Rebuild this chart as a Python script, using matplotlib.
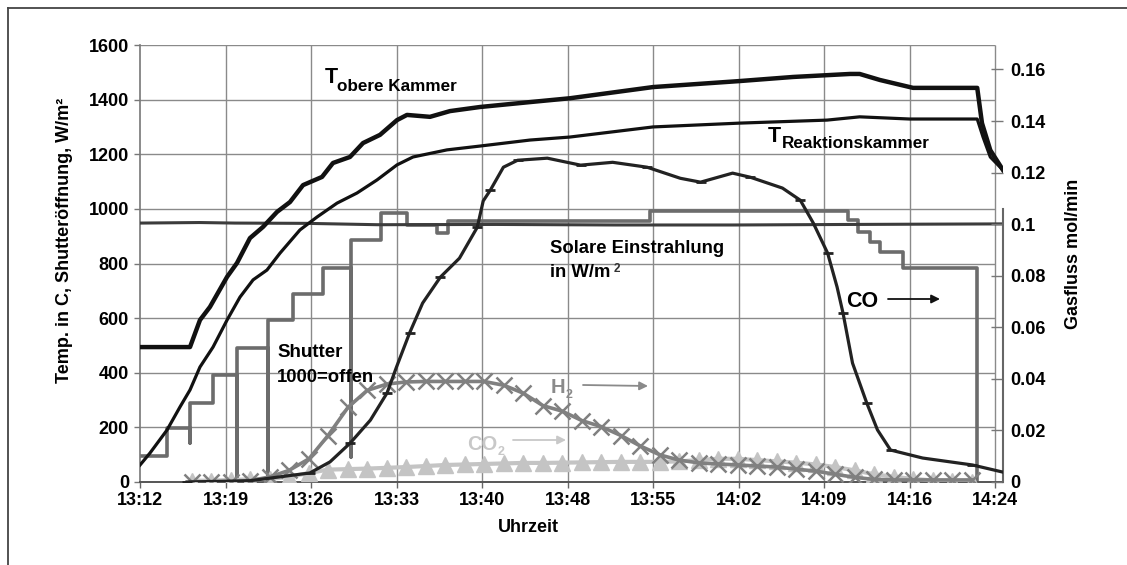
import matplotlib
matplotlib.use("Agg")
import matplotlib.pyplot as plt
from matplotlib.lines import Line2D

plt.rcParams['font.family'] = ['Liberation Sans', 'DejaVu Sans']
plt.rcParams['font.weight'] = 'bold'

# ---------------- data (time in minutes after 13:12) ----------------
tick_labels = ["13:12", "13:19", "13:26", "13:33", "13:40", "13:48",
               "13:55", "14:02", "14:09", "14:16", "14:24"]
tick_pos = [0, 7.2, 14.4, 21.6, 28.8, 36.0, 43.2, 50.4, 57.6, 64.8, 72.0]

t_obere_t = [0, 4.21, 5.05, 5.89, 7.33, 8.17, 9.26, 10.36, 11.54, 12.63, 13.73,
             15.33, 16.25, 17.68, 18.78, 20.21, 21.64, 22.48, 24.42, 26.1, 28.63,
             32.84, 36.2, 43.2, 50.5, 55.0, 59.8, 60.6, 62.3, 65.1, 70.5, 70.9,
             71.6, 72.67]
t_obere_v = [494, 494, 593, 641, 751, 802, 893, 934, 989, 1025, 1087,
             1117, 1168, 1190, 1241, 1271, 1325, 1344, 1337, 1358, 1373,
             1391, 1405, 1446, 1468, 1483, 1494, 1494, 1472, 1443, 1443, 1314,
             1215, 1142]

t_reak_t = [0, 0.84, 2.27, 3.37, 4.21, 5.05, 6.15, 7.33, 8.42, 9.52, 10.69,
            11.79, 13.47, 14.9, 16.59, 18.27, 19.96, 21.64, 22.99, 25.85, 28.63,
            32.84, 36.2, 43.2, 50.5, 57.85, 60.6, 64.8, 70.5, 70.99, 71.6, 72.67]
t_reak_v = [62, 106, 190, 275, 337, 421, 494, 593, 677, 740, 776,
            838, 923, 970, 1021, 1058, 1106, 1161, 1190, 1216, 1230,
            1252, 1263, 1300, 1314, 1325, 1337, 1329, 1329, 1263, 1190, 1142]

solar_t = [0, 5, 8, 14, 20, 30, 40, 50, 60, 66, 72.67]
solar_v = [948, 950, 948, 947, 942, 943, 941, 941, 943, 944, 945]

shutter_t = [0, 2.27, 4.21, 4.21, 6.15, 8.17, 8.17, 10.78, 10.78, 12.88, 15.41,
             17.77, 17.77, 20.29, 22.48, 25.0, 25.94, 42.95, 59.6, 60.5, 61.5,
             62.3, 64.25, 70.5]
shutter_v = [95, 198, 143, 289, 392, 0, 490, 0, 593, 688, 785,
             91, 886, 985, 941, 911, 955, 992, 959, 915, 879,
             842, 783, 0]

co_t = [3.96, 9.26, 14.3, 16.0, 17.7, 19.4, 20.8, 21.6, 22.7, 23.8, 25.3, 26.9,
        28.4, 28.9, 29.5, 30.6, 31.8, 34.3, 37.1, 39.8, 42.7, 45.5, 47.2, 49.9,
        51.4, 54.1, 55.6, 56.7, 57.9, 58.7, 59.2, 60.0, 61.2, 62.1, 63.2, 65.9,
        70.1, 72.6]
co_v = [0.0, 0.0005, 0.0035, 0.0078, 0.0151, 0.0240, 0.0345, 0.0446, 0.0578,
        0.0694, 0.0795, 0.0868, 0.0988, 0.109, 0.1132, 0.1221, 0.1248, 0.1256,
        0.1229, 0.1240, 0.1221, 0.1178, 0.1163, 0.1198, 0.1182, 0.1140, 0.1093,
        0.1004, 0.0888, 0.0756, 0.0655, 0.0461, 0.0306, 0.0202, 0.0124, 0.0093,
        0.0066, 0.0039]

gas_t = [4.38, 5.98, 7.66, 9.26, 10.95, 12.55, 14.23, 15.83, 17.52, 19.12, 20.8,
         22.4, 24.08, 25.68, 27.37, 28.97, 30.65, 32.25, 33.94, 35.54, 37.22,
         38.82, 40.51, 42.11, 43.79, 45.39, 47.07, 48.67, 50.36, 51.96, 53.64,
         55.24, 56.93, 58.53, 60.21, 61.81, 63.49, 65.09, 66.78, 68.38, 70.06]
h2_v = [0.0, 0.0, 0.0, 0.0005, 0.002, 0.0045, 0.009, 0.018, 0.029, 0.0355, 0.038,
        0.0388, 0.039, 0.039, 0.039, 0.039, 0.0375, 0.0345, 0.0296, 0.0275, 0.0238,
        0.0215, 0.018, 0.014, 0.0105, 0.0085, 0.0074, 0.007, 0.0066, 0.0062, 0.0058,
        0.005, 0.0042, 0.003, 0.0018, 0.001, 0.0008, 0.0008, 0.0008, 0.0008, 0.0008]
co2_v = [0.0005, 0.0005, 0.0008, 0.001, 0.0012, 0.002, 0.0035, 0.0048, 0.005,
         0.0052, 0.0055, 0.0058, 0.0062, 0.0066, 0.0068, 0.007, 0.0072, 0.0074,
         0.0074, 0.0075, 0.0076, 0.0077, 0.0078, 0.0078, 0.0078, 0.008, 0.0085,
         0.009, 0.009, 0.0085, 0.008, 0.0075, 0.0068, 0.0058, 0.0045, 0.003, 0.002,
         0.0012, 0.0006, 0.0003, 0.0]

left_ticks = [0, 200, 400, 600, 800, 1000, 1200, 1400, 1600]
right_ticks = [0, 0.02, 0.04, 0.06, 0.08, 0.1, 0.12, 0.14, 0.16]
right_labels = ["0", "0.02", "0.04", "0.06", "0.08", "0.1", "0.12", "0.14", "0.16"]

# ---------------- figure ----------------
W, H = 1127, 565
fig = plt.figure(figsize=(W / 100, H / 100), dpi=100)
fig.patch.set_facecolor('white')

def fx(px):
    return px / W

def fy(py):
    return 1 - py / H

ax1 = fig.add_axes([fx(140), fy(482), (1003 - 140) / W, 437 / H])
ax1.set_xlim(0, 72.67)
ax1.set_ylim(0, 1600)
ax2 = ax1.twinx()
ax2.set_ylim(0, 0.1695)

gcol = '#8a8a8a'
ax1.hlines(left_ticks[1:], 0, 72, color=gcol, lw=1.0, zorder=0)
ax1.vlines(tick_pos[1:], 0, 1600, color=gcol, lw=1.0, zorder=0)

for sp in ['top', 'right']:
    ax1.spines[sp].set_visible(False)
ax1.spines['left'].set_color('#777777')
ax1.spines['bottom'].set_color('#555555')
ax1.spines['left'].set_linewidth(1.2)
ax1.spines['bottom'].set_linewidth(1.4)
for sp in ['top', 'left', 'bottom']:
    ax2.spines[sp].set_visible(False)
ax2.spines['right'].set_bounds(0, 0.106)
ax2.spines['right'].set_color('#666666')
ax2.spines['right'].set_linewidth(1.5)

ax1.set_xticks(tick_pos)
ax1.set_xticklabels(tick_labels)
ax1.set_yticks(left_ticks)
ax1.set_yticklabels([str(v) for v in left_ticks])
ax1.tick_params(axis='x', length=4, width=1, color='#666666', pad=3, labelsize=13)
ax1.tick_params(axis='y', length=4, width=1, color='#777777', pad=4, labelsize=13)
ax2.set_yticks(right_ticks)
ax2.set_yticklabels(right_labels)
ax2.tick_params(axis='y', direction='in', length=9, width=1, color='#777777',
                pad=5, labelsize=13)

# temperature-axis series
ax1.step(shutter_t, shutter_v, where='post', color='#6c6c6c', lw=2.6, zorder=2)
ax1.plot(solar_t, solar_v, color='#3c3c3c', lw=2.2, zorder=3)
ax1.plot(t_reak_t, t_reak_v, color='#111111', lw=2.3, zorder=4)
ax1.plot(t_obere_t, t_obere_v, color='#111111', lw=3.2, zorder=4)

# gas-flow series
ax2.plot(gas_t, co2_v, color='#c4c4c4', lw=3.0, marker='^', ms=11,
         mfc='#c4c4c4', mec='#c4c4c4', zorder=2)
ax2.plot(gas_t, h2_v, color='#808080', lw=2.6, marker='x', ms=12, mew=1.8,
         zorder=3)
ax2.plot(co_t, co_v, color='#222222', lw=2.3, marker='_', ms=7, mew=2.0,
         markevery=2, zorder=4)

# ---------------- text ----------------
fig.text(fx(65), fy(240), "Temp. in C, Shutteröffnung, W/m²", rotation=90,
         ha='center', va='center', fontsize=13)
fig.text(fx(1073), fy(254), "Gasfluss mol/min", rotation=90,
         ha='center', va='center', fontsize=13)
fig.text(fx(528), fy(528), "Uhrzeit", ha='center', va='center', fontsize=13)

fig.text(fx(325), fy(83), "T", fontsize=15.5, va='baseline')
fig.text(fx(337), fy(91), "obere Kammer", fontsize=12.3, va='baseline')
fig.text(fx(768), fy(142), "T", fontsize=15.5, va='baseline')
fig.text(fx(782), fy(148), "Reaktionskammer", fontsize=12.3, va='baseline')
fig.text(fx(550), fy(253), "Solare Einstrahlung", fontsize=13.3, va='baseline')
fig.text(fx(550), fy(277), "in W/m", fontsize=13.3, va='baseline')
fig.text(fx(614), fy(272), "2", fontsize=8.5, va='baseline', color='#333333')
fig.text(fx(277), fy(357), "Shutter", fontsize=13.5, va='baseline')
fig.text(fx(277), fy(382), "1000=offen", fontsize=13.3, va='baseline')
fig.text(fx(846), fy(307), "CO", fontsize=15.5, va='baseline')
fig.text(fx(551), fy(393), "H", fontsize=14.5, va='baseline', color='#8a8a8a')
fig.text(fx(566), fy(398), "2", fontsize=9, va='baseline', color='#8a8a8a')
fig.text(fx(467), fy(450), "CO", fontsize=14.5, va='baseline', color='#c8c8c8')
fig.text(fx(498), fy(455), "2", fontsize=9, va='baseline', color='#c8c8c8')

def arrow(x1, y1, x2, y2, col):
    fig.add_artist(matplotlib.patches.FancyArrowPatch(
        (fx(x1), fy(y1)), (fx(x2), fy(y2)), transform=fig.transFigure,
        arrowstyle='-|>,head_length=5,head_width=2.5', color=col, lw=1.3,
        shrinkA=0, shrinkB=0))

arrow(888, 299, 940, 299, '#111111')
arrow(583, 385, 648, 386, '#8a8a8a')
arrow(513, 440, 566, 440, '#c8c8c8')

# outer border
fig.add_artist(Line2D([fx(8), fx(8)], [0, fy(8)], transform=fig.transFigure,
                      color='#444444', lw=1.3))
fig.add_artist(Line2D([fx(8), 1], [fy(8), fy(8)], transform=fig.transFigure,
                      color='#444444', lw=1.3))

fig.savefig("out.png", dpi=100)
